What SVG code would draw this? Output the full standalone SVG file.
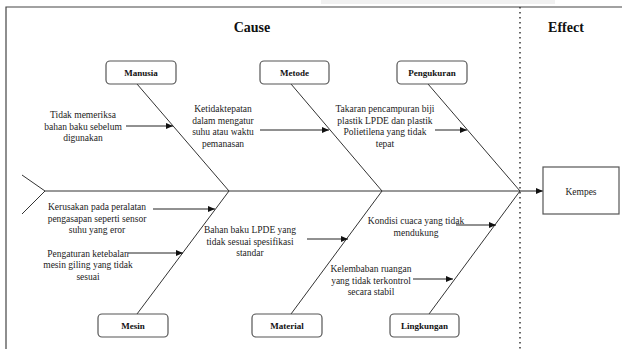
<svg xmlns="http://www.w3.org/2000/svg" width="622" height="349" viewBox="0 0 622 349">
<defs>
<marker id="ah" markerWidth="8" markerHeight="8" refX="7" refY="4" orient="auto" markerUnits="userSpaceOnUse">
<path d="M0,1 L7,4 L0,7 Z" fill="#111"/>
</marker>
<style>
.frame{stroke:#444;stroke-width:1.2;fill:none}
.bone{stroke:#333;stroke-width:1;fill:none}
.arr{stroke:#222;stroke-width:1;fill:none;marker-end:url(#ah)}
.box{fill:#fff;stroke:#555;stroke-width:1.2}
.lbl{font-family:"Liberation Serif","Times New Roman",serif;font-size:9px;font-weight:bold;fill:#111;text-anchor:middle}
.t{font-family:"Liberation Serif","Times New Roman",serif;font-size:9.5px;fill:#222;text-anchor:middle}
.h{font-family:"Liberation Serif","Times New Roman",serif;font-size:14px;font-weight:bold;fill:#111;text-anchor:middle}
</style>
</defs>
<rect width="622" height="349" fill="#fff"/>
<rect x="321" y="0" width="234" height="4" fill="#f1f1f1"/>
<path class="frame" d="M6,349 L6,7 L622,7"/>
<line x1="520" y1="7" x2="520" y2="349" stroke="#333" stroke-width="1.5" stroke-dasharray="1.5,3.5"/>
<text class="h" x="252" y="32">Cause</text>
<text class="h" x="566" y="32">Effect</text>

<g id="connectors">
<polyline class="bone" points="22,175 45,191 22,214"/>
<line class="bone" x1="45" y1="191" x2="520" y2="191"/>
<line class="arr" x1="520" y1="191" x2="543" y2="191"/>
<line class="bone" x1="137" y1="84" x2="229" y2="191"/>
<line class="bone" x1="291" y1="84" x2="382" y2="191"/>
<line class="bone" x1="428" y1="84" x2="520" y2="191"/>
<line class="bone" x1="229" y1="191" x2="137" y2="314"/>
<line class="bone" x1="382" y1="191" x2="291" y2="314"/>
<line class="bone" x1="520" y1="191" x2="429" y2="314"/>
<line class="arr" x1="126" y1="126" x2="173" y2="126"/>
<line class="arr" x1="260" y1="130" x2="329" y2="130"/>
<line class="arr" x1="435" y1="130" x2="467" y2="130"/>
<line class="arr" x1="153" y1="209" x2="215" y2="209"/>
<line class="arr" x1="128" y1="253" x2="183" y2="253"/>
<line class="arr" x1="307" y1="239" x2="348" y2="239"/>
<line class="arr" x1="456" y1="225" x2="496" y2="225"/>
<line class="arr" x1="413" y1="279" x2="453" y2="279"/>
</g>

<g id="manusia"><rect class="box" x="106" y="61" width="70" height="23" rx="4"/><text class="lbl" x="141" y="75.5">Manusia</text></g>
<g id="metode"><rect class="box" x="260" y="61" width="69" height="23" rx="4"/><text class="lbl" x="294.5" y="75.5">Metode</text></g>
<g id="pengukuran"><rect class="box" x="397" y="61" width="70" height="23" rx="4"/><text class="lbl" x="432" y="75.5">Pengukuran</text></g>
<g id="mesin"><rect class="box" x="98" y="314" width="70" height="23" rx="4"/><text class="lbl" x="133" y="328.5">Mesin</text></g>
<g id="material"><rect class="box" x="252" y="314" width="70" height="23" rx="4"/><text class="lbl" x="287" y="328.5">Material</text></g>
<g id="lingkungan"><rect class="box" x="390" y="314" width="69" height="23" rx="4"/><text class="lbl" x="424.5" y="328.5">Lingkungan</text></g>
<g id="kempes"><rect x="543" y="167" width="76" height="47" fill="#fff" stroke="#555" stroke-width="1.2"/><text class="t" x="581" y="194.5">Kempes</text></g>

<g id="c-manusia1"><text class="t" x="83" y="118">Tidak memeriksa</text><text class="t" x="83" y="129.5">bahan baku sebelum</text><text class="t" x="83" y="141">digunakan</text></g>
<g id="c-metode1"><text class="t" x="223" y="112">Ketidaktepatan</text><text class="t" x="223" y="123.5">dalam mengatur</text><text class="t" x="223" y="135">suhu atau waktu</text><text class="t" x="223" y="146.5">pemanasan</text></g>
<g id="c-pengukuran1"><text class="t" x="385" y="112">Takaran pencampuran biji</text><text class="t" x="385" y="123.5">plastik LPDE dan plastik</text><text class="t" x="385" y="135">Polietilena yang tidak</text><text class="t" x="385" y="146.5">tepat</text></g>
<g id="c-mesin1"><text class="t" x="97" y="210">Kerusakan pada peralatan</text><text class="t" x="97" y="221.5">pengasapan seperti sensor</text><text class="t" x="97" y="233">suhu yang eror</text></g>
<g id="c-mesin2"><text class="t" x="88" y="256.5">Pengaturan ketebalan</text><text class="t" x="88" y="268">mesin giling yang tidak</text><text class="t" x="88" y="279.5">sesuai</text></g>
<g id="c-material1"><text class="t" x="250" y="233">Bahan baku LPDE yang</text><text class="t" x="250" y="244.5">tidak sesuai spesifikasi</text><text class="t" x="250" y="256">standar</text></g>
<g id="c-lingkungan1"><text class="t" x="416" y="224">Kondisi cuaca yang tidak</text><text class="t" x="416" y="235.5">mendukung</text></g>
<g id="c-lingkungan2"><text class="t" x="371" y="272">Kelembaban ruangan</text><text class="t" x="371" y="283.5">yang tidak terkontrol</text><text class="t" x="371" y="295">secara stabil</text></g>
</svg>
